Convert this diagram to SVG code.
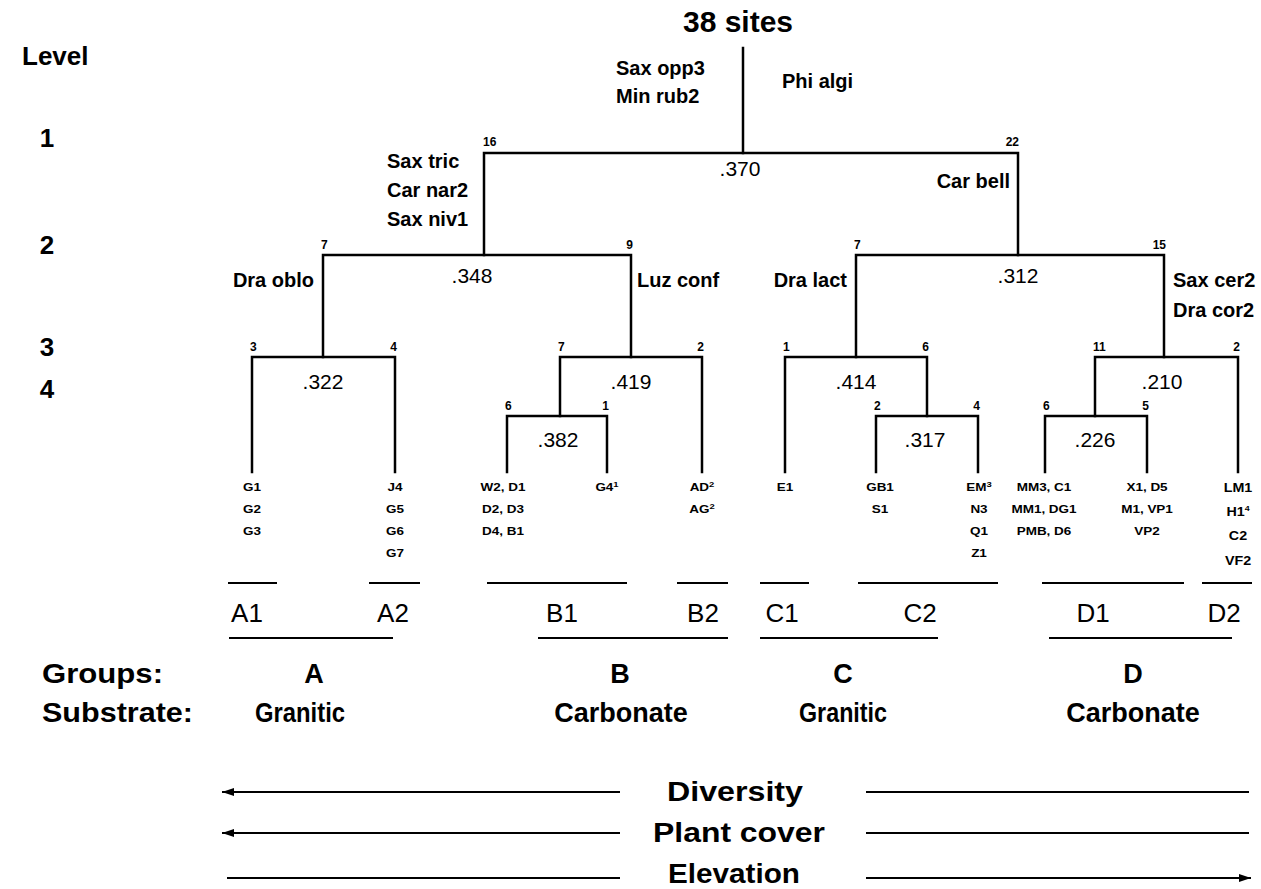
<svg xmlns="http://www.w3.org/2000/svg" width="1261" height="889" viewBox="0 0 1261 889">
<style>
text{font-family:"Liberation Sans",Arial,sans-serif;fill:#000}
.title{font-size:30px;font-weight:bold}
.lvl{font-size:26px;font-weight:bold}
.sp{font-size:20px;font-weight:bold}
.ct{font-size:12px;font-weight:bold}
.val{font-size:21px}
.leaf{font-size:10px;font-weight:bold}
.leaf2{font-size:13px;font-weight:bold}
.sub{font-size:26px}
.grp{font-size:27px;font-weight:bold}
.bot{font-size:27px;font-weight:bold}
.tree{fill:none;stroke:#000;stroke-width:2.5;stroke-linecap:square}
.ul{fill:none;stroke:#000;stroke-width:2}
.arr{fill:none;stroke:#000;stroke-width:2}
</style>
<defs>
<marker id="ah" viewBox="0 0 12 8" refX="12" refY="4" markerWidth="12" markerHeight="8" markerUnits="userSpaceOnUse" orient="auto-start-reverse">
<path d="M0,0 L12,4 L0,8 z" fill="#000"/>
</marker>
</defs>
<rect width="1261" height="889" fill="#fff"/>

<g id="connectors">
<path class="tree" d="M743 48 V153"/>
<path class="tree" d="M484 255 V153 H1018 V255"/>
<path class="tree" d="M323 357 V255 H631 V357"/>
<path class="tree" d="M856 357 V255 H1164 V357"/>
<path class="tree" d="M252 472 V357 H395 V472"/>
<path class="tree" d="M560 416 V357 H702 V472"/>
<path class="tree" d="M507 472 V416 H607 V472"/>
<path class="tree" d="M785 472 V357 H927 V416"/>
<path class="tree" d="M876 472 V416 H978 V472"/>
<path class="tree" d="M1095 416 V357 H1238 V472"/>
<path class="tree" d="M1045 472 V416 H1147 V472"/>
</g>

<g id="level-axis">
<text class="lvl" x="22" y="65">Level</text>
<text class="lvl" x="47" y="147" text-anchor="middle">1</text>
<text class="lvl" x="47" y="254" text-anchor="middle">2</text>
<text class="lvl" x="47" y="356" text-anchor="middle">3</text>
<text class="lvl" x="47" y="398" text-anchor="middle">4</text>
</g>

<g id="node-root">
<text class="title" x="738" y="32" text-anchor="middle">38 sites</text>
<text class="sp" x="616" y="75">Sax opp3</text>
<text class="sp" x="616" y="103">Min rub2</text>
<text class="sp" x="782" y="88">Phi algi</text>
<text class="val" x="740" y="176" text-anchor="middle">.370</text>
</g>

<g id="node-16">
<text class="ct" x="483" y="146">16</text>
<text class="sp" x="387" y="168">Sax tric</text>
<text class="sp" x="387" y="197">Car nar2</text>
<text class="sp" x="387" y="226">Sax niv1</text>
<text class="val" x="472" y="283" text-anchor="middle">.348</text>
</g>

<g id="node-22">
<text class="ct" x="1019" y="146" text-anchor="end">22</text>
<text class="sp" x="1010" y="188" text-anchor="end">Car bell</text>
<text class="val" x="1018" y="283" text-anchor="middle">.312</text>
</g>

<g id="node-A">
<text class="ct" x="321" y="249">7</text>
<text class="sp" x="314" y="287" text-anchor="end">Dra oblo</text>
<text class="val" x="323" y="389" text-anchor="middle">.322</text>
</g>

<g id="node-B">
<text class="ct" x="633" y="249" text-anchor="end">9</text>
<text class="sp" x="637" y="287">Luz conf</text>
<text class="val" x="631" y="389" text-anchor="middle">.419</text>
</g>

<g id="node-C">
<text class="ct" x="854" y="249">7</text>
<text class="sp" x="847" y="287" text-anchor="end">Dra lact</text>
<text class="val" x="856" y="389" text-anchor="middle">.414</text>
</g>

<g id="node-D">
<text class="ct" x="1166" y="249" text-anchor="end">15</text>
<text class="sp" x="1173" y="287">Sax cer2</text>
<text class="sp" x="1173" y="317">Dra cor2</text>
<text class="val" x="1162" y="389" text-anchor="middle">.210</text>
</g>

<g id="node-A1"><text class="ct" x="250" y="351">3</text></g>
<g id="node-A2"><text class="ct" x="397" y="351" text-anchor="end">4</text></g>
<g id="node-B1">
<text class="ct" x="558" y="351">7</text>
<text class="val" x="558" y="447" text-anchor="middle">.382</text>
</g>
<g id="node-B2"><text class="ct" x="704" y="351" text-anchor="end">2</text></g>
<g id="node-C1"><text class="ct" x="783" y="351">1</text></g>
<g id="node-C2">
<text class="ct" x="929" y="351" text-anchor="end">6</text>
<text class="val" x="925" y="447" text-anchor="middle">.317</text>
</g>
<g id="node-D1">
<text class="ct" x="1093" y="351">11</text>
<text class="val" x="1095" y="447" text-anchor="middle">.226</text>
</g>
<g id="node-D2"><text class="ct" x="1240" y="351" text-anchor="end">2</text></g>

<g id="node-B1a"><text class="ct" x="505" y="410">6</text></g>
<g id="node-B1b"><text class="ct" x="609" y="410" text-anchor="end">1</text></g>
<g id="node-C2a"><text class="ct" x="874" y="410">2</text></g>
<g id="node-C2b"><text class="ct" x="980" y="410" text-anchor="end">4</text></g>
<g id="node-D1a"><text class="ct" x="1043" y="410">6</text></g>
<g id="node-D1b"><text class="ct" x="1149" y="410" text-anchor="end">5</text></g>

<g id="leaves">
<g transform="translate(252 0) scale(1.35 1)"><text class="leaf" text-anchor="middle"><tspan x="0" y="491">G1</tspan><tspan x="0" y="513">G2</tspan><tspan x="0" y="535">G3</tspan></text></g>
<g transform="translate(395 0) scale(1.35 1)"><text class="leaf" text-anchor="middle"><tspan x="0" y="491">J4</tspan><tspan x="0" y="513">G5</tspan><tspan x="0" y="535">G6</tspan><tspan x="0" y="557">G7</tspan></text></g>
<g transform="translate(503 0) scale(1.35 1)"><text class="leaf" text-anchor="middle"><tspan x="0" y="491">W2, D1</tspan><tspan x="0" y="513">D2, D3</tspan><tspan x="0" y="535">D4, B1</tspan></text></g>
<g transform="translate(607 0) scale(1.35 1)"><text class="leaf" x="0" y="491" text-anchor="middle">G4<tspan font-size="7" dy="-4">1</tspan></text></g>
<g transform="translate(702 0) scale(1.35 1)"><text class="leaf" text-anchor="middle"><tspan x="0" y="491">AD<tspan font-size="7" dy="-4">2</tspan></tspan><tspan x="0" y="513">AG<tspan font-size="7" dy="-4">2</tspan></tspan></text></g>
<g transform="translate(785 0) scale(1.35 1)"><text class="leaf" x="0" y="491" text-anchor="middle">E1</text></g>
<g transform="translate(880 0) scale(1.35 1)"><text class="leaf" text-anchor="middle"><tspan x="0" y="491">GB1</tspan><tspan x="0" y="513">S1</tspan></text></g>
<g transform="translate(979 0) scale(1.35 1)"><text class="leaf" text-anchor="middle"><tspan x="0" y="491">EM<tspan font-size="7" dy="-4">3</tspan></tspan><tspan x="0" y="513">N3</tspan><tspan x="0" y="535">Q1</tspan><tspan x="0" y="557">Z1</tspan></text></g>
<g transform="translate(1044 0) scale(1.35 1)"><text class="leaf" text-anchor="middle"><tspan x="0" y="491">MM3, C1</tspan><tspan x="0" y="513">MM1, DG1</tspan><tspan x="0" y="535">PMB, D6</tspan></text></g>
<g transform="translate(1147 0) scale(1.35 1)"><text class="leaf" text-anchor="middle"><tspan x="0" y="491">X1, D5</tspan><tspan x="0" y="513">M1, VP1</tspan><tspan x="0" y="535">VP2</tspan></text></g>
<g transform="translate(1238 0) scale(1.1 1)"><text class="leaf2" text-anchor="middle"><tspan x="0" y="492">LM1</tspan><tspan x="0" y="516">H1<tspan font-size="8" dy="-5">4</tspan></tspan><tspan x="0" y="540">C2</tspan><tspan x="0" y="565">VF2</tspan></text></g>
</g>

<g id="subgroups">
<path class="ul" d="M228 583 H277 M369 583 H420 M487 583 H627 M677 583 H728 M760 583 H809 M858 583 H998 M1042 583 H1184 M1202 583 H1252"/>
<text class="sub" x="247" y="622" text-anchor="middle">A1</text>
<text class="sub" x="393" y="622" text-anchor="middle">A2</text>
<text class="sub" x="562" y="622" text-anchor="middle">B1</text>
<text class="sub" x="703" y="622" text-anchor="middle">B2</text>
<text class="sub" x="782" y="622" text-anchor="middle">C1</text>
<text class="sub" x="920" y="622" text-anchor="middle">C2</text>
<text class="sub" x="1093" y="622" text-anchor="middle">D1</text>
<text class="sub" x="1224" y="622" text-anchor="middle">D2</text>
</g>

<g id="groups">
<path class="ul" d="M229 638 H393 M538 638 H728 M760 638 H938 M1049 638 H1232"/>
<text class="grp" x="42" y="683" textLength="121" lengthAdjust="spacingAndGlyphs">Groups:</text>
<text class="grp" x="314" y="683" text-anchor="middle">A</text>
<text class="grp" x="620" y="683" text-anchor="middle">B</text>
<text class="grp" x="843" y="683" text-anchor="middle">C</text>
<text class="grp" x="1133" y="683" text-anchor="middle">D</text>
<text class="grp" x="42" y="722" textLength="151" lengthAdjust="spacingAndGlyphs">Substrate:</text>
<text class="grp" x="300" y="722" text-anchor="middle" textLength="90" lengthAdjust="spacingAndGlyphs">Granitic</text>
<text class="grp" x="621" y="722" text-anchor="middle">Carbonate</text>
<text class="grp" x="843" y="722" text-anchor="middle" textLength="88" lengthAdjust="spacingAndGlyphs">Granitic</text>
<text class="grp" x="1133" y="722" text-anchor="middle">Carbonate</text>
</g>

<g id="gradients">
<path class="arr" d="M222 792 H620" marker-start="url(#ah)"/>
<path class="arr" d="M866 792 H1249"/>
<text class="bot" x="735" y="801" text-anchor="middle" textLength="136" lengthAdjust="spacingAndGlyphs">Diversity</text>
<path class="arr" d="M222 833 H620" marker-start="url(#ah)"/>
<path class="arr" d="M866 833 H1249"/>
<text class="bot" x="739" y="842" text-anchor="middle" textLength="172" lengthAdjust="spacingAndGlyphs">Plant cover</text>
<path class="arr" d="M227 878 H620"/>
<path class="arr" d="M866 878 H1251" marker-end="url(#ah)"/>
<text class="bot" x="734" y="883" text-anchor="middle" textLength="132" lengthAdjust="spacingAndGlyphs">Elevation</text>
</g>
</svg>
